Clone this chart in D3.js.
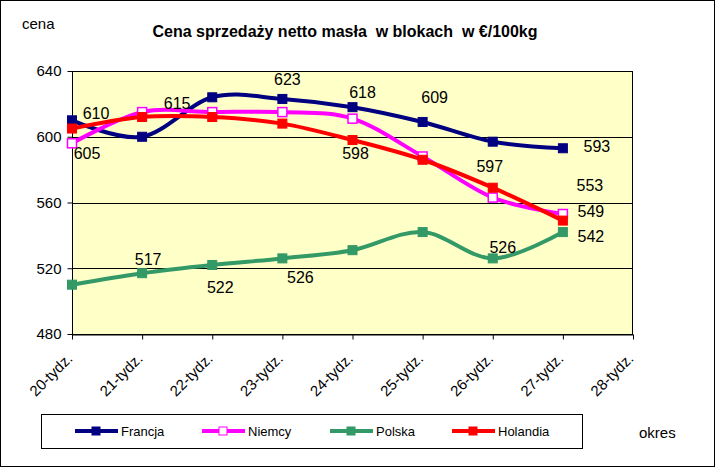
<!DOCTYPE html>
<html><head><meta charset="utf-8">
<script src="https://cdn.jsdelivr.net/npm/d3@7/dist/d3.min.js"></script>
<style>body{margin:0;background:#fff}svg{display:block;font-family:Arial,"Liberation Sans",sans-serif}</style>
</head><body>
<svg id="c" width="715" height="467"></svg>
<script>
const categories = ["20-tydz.","21-tydz.","22-tydz.","23-tydz.","24-tydz.","25-tydz.","26-tydz.","27-tydz.","28-tydz."];
const francja  = [610, 600, 624, 623, 618, 609, 597, 593];
const niemcy   = [596, 615, 615, 615, 611, 588, 563, 553];
const polska   = [510, 517, 522, 526, 531, 542, 526, 542];
const holandia = [605, 612, 612, 608, 598, 586, 569, 549];
const yTicks = [480, 520, 560, 600, 640];
const seriesNames = ["Francja","Niemcy","Polska","Holandia"];
const title = "Cena sprzedaży netto masła  w blokach  w €/100kg";

const series = [
  {name: seriesNames[0], values: francja,  color: "#000080", hollow: false},
  {name: seriesNames[1], values: niemcy,   color: "#FF00FF", hollow: true},
  {name: seriesNames[2], values: polska,   color: "#339966", hollow: false},
  {name: seriesNames[3], values: holandia, color: "#FF0000", hollow: false}
];
// data label placement: series index, point index, offset
const labelSpec = [
  {s:0,i:0,dx:24,dy:-7},{s:3,i:0,dx:15,dy:25},{s:1,i:1,dx:35,dy:-9},
  {s:0,i:3,dx:5,dy:-19},{s:0,i:4,dx:10,dy:-15},{s:0,i:5,dx:12,dy:-24},
  {s:3,i:4,dx:3,dy:13},{s:0,i:6,dx:-3,dy:25},{s:0,i:7,dx:34,dy:-2},
  {s:1,i:7,dx:27,dy:-29},{s:3,i:7,dx:28,dy:-9},{s:2,i:7,dx:28,dy:4},
  {s:2,i:1,dx:6,dy:-14},{s:2,i:2,dx:8,dy:23},{s:2,i:3,dx:18,dy:19},{s:2,i:6,dx:10,dy:-11}
];

const svg = d3.select("#c");
svg.append("rect").attr("x",0.5).attr("y",0.5).attr("width",714).attr("height",466)
  .attr("fill","#fff").attr("stroke","#000");

const L=72, R=633, T=71, B=334;
const x = d3.scalePoint().domain(categories).range([L,R]);
const y = d3.scaleLinear().domain([480,640]).range([B,T]);

svg.append("rect").attr("x",L).attr("y",T).attr("width",R-L).attr("height",B-T).attr("fill","#FFFFC8");
// gridlines
svg.append("g").selectAll("line").data(yTicks).join("line")
  .attr("x1",L).attr("x2",R).attr("y1",d=>Math.round(y(d))+0.5).attr("y2",d=>Math.round(y(d))+0.5)
  .attr("stroke","#000").attr("stroke-width",1);
svg.append("rect").attr("x",L+0.5).attr("y",T+0.5).attr("width",R-L-1).attr("height",B-T)
  .attr("fill","none").attr("stroke","#000");

// y axis
const ya = svg.append("g").attr("transform",`translate(${L+0.5},0)`)
  .call(d3.axisLeft(y).tickValues(yTicks).tickSize(5).tickPadding(6).tickFormat(d3.format("d")));
ya.select(".domain").remove();
ya.selectAll("line").attr("stroke","#000");
ya.selectAll("text").attr("font-size",15).attr("fill","#000").style("font-family","Arial");

// x axis
const xa = svg.append("g").attr("transform",`translate(0,${B+0.5})`)
  .call(d3.axisBottom(x).tickSize(5).tickPadding(4).tickSizeOuter(0));
xa.select(".domain").attr("stroke","#000");
xa.selectAll("line").attr("stroke","#000");
xa.selectAll("text").attr("font-size",15).attr("fill","#000").style("font-family","Arial")
  .attr("text-anchor","end").attr("dy",0).attr("dx",0).attr("y",0)
  .attr("transform","translate(1,25) rotate(-45)");

const line = d3.line().x((d,i)=>x(categories[i])).y(d=>y(d)).curve(d3.curveCardinal.tension(0));
const gS = svg.append("g");
series.forEach(s=>{
  gS.append("path").attr("d",line(s.values)).attr("fill","none").attr("stroke",s.color).attr("stroke-width",4);
  gS.append("g").selectAll("rect").data(s.values).join("rect")
    .attr("x",(d,i)=>x(categories[i])-4.5).attr("y",d=>y(d)-4.5).attr("width",9).attr("height",9)
    .attr("fill",s.hollow?"#FFFFFF":s.color).attr("stroke",s.color).attr("stroke-width",s.hollow?1.5:1);
});

// data labels
svg.append("g").selectAll("text").data(labelSpec).join("text")
  .attr("x",d=>x(categories[d.i])+d.dx).attr("y",d=>y(series[d.s].values[d.i])+d.dy)
  .attr("text-anchor","middle").attr("dominant-baseline","central")
  .attr("font-size",16).attr("fill","#000")
  .text(d=>series[d.s].values[d.i]);

// title and axis titles
svg.append("text").attr("x",345).attr("y",31).attr("text-anchor","middle").attr("dominant-baseline","central")
  .attr("font-size",16).attr("font-weight","bold").style("white-space","pre").text(title);
svg.append("text").attr("x",22).attr("y",23).attr("dominant-baseline","central").attr("font-size",15).text("cena");
svg.append("text").attr("x",639).attr("y",432).attr("dominant-baseline","central").attr("font-size",15).text("okres");

// legend
svg.append("rect").attr("x",41.5).attr("y",414.5).attr("width",541).attr("height",34).attr("fill","#fff").attr("stroke","#000");
const legX = [75, 202, 330, 452];
const lg = svg.append("g").selectAll("g").data(series).join("g").attr("transform",(d,i)=>`translate(${legX[i]},431)`);
lg.append("line").attr("x1",0).attr("x2",43).attr("stroke",d=>d.color).attr("stroke-width",4);
lg.append("rect").attr("x",17).attr("y",-4).attr("width",8).attr("height",8)
  .attr("fill",d=>d.hollow?"#fff":d.color).attr("stroke",d=>d.color);
lg.append("text").attr("x",46).attr("dominant-baseline","central").attr("font-size",13).text(d=>d.name);
</script>
</body></html>
